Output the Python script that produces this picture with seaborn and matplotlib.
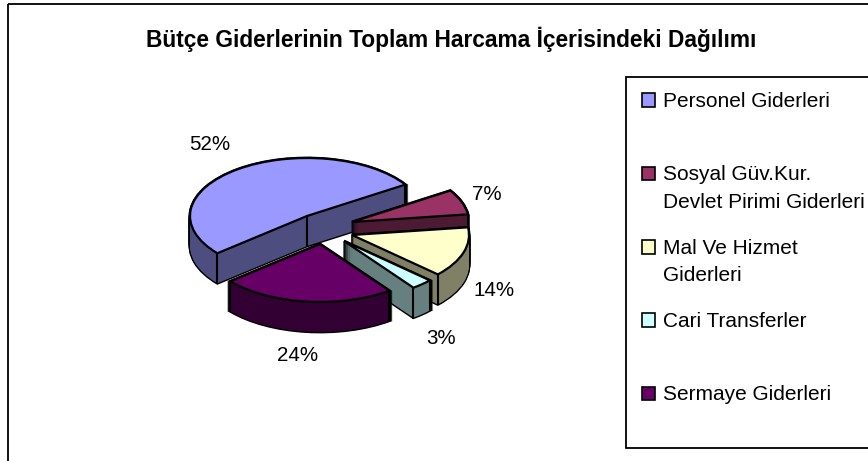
import numpy as np
import matplotlib
matplotlib.use('Agg')
import matplotlib.pyplot as plt
from matplotlib.patches import Patch, Rectangle
import seaborn as sns

baslik = 'Bütçe Giderlerinin Toplam Harcama İçerisindeki Dağılımı'
kategoriler = ['Personel Giderleri', 'Sosyal Güv.Kur.\nDevlet Pirimi Giderleri',
               'Mal Ve Hizmet\nGiderleri', 'Cari Transferler', 'Sermaye Giderleri']
degerler = [52, 7, 14, 3, 24]

sns.set_theme(style='white')
plt.rcParams['font.family'] = ['Liberation Sans', 'DejaVu Sans']

renkler = sns.color_palette(['#9999FF', '#993366', '#FFFFCC', '#CCFFFF', '#660066'])
koyu = sns.color_palette(['#4D4D80', '#4D1A33', '#808066', '#668080', '#330033'])

W, H = 868, 461
RX, RY = 117, 58          # elips yaricaplari (piksel)
CX, CY = 307, 216         # ana dilimin merkezi
DERINLIK = 30
BASLA = 220
# dilimlerin kaydirmasi (piksel): x saga, y asagi
kayma = [(0, 0), (45, 6), (45, 19), (37, 25), (13, 28)]
# hangi dik kenarlar gorunur: basla, merkez, bitis
koseler = [(1, 1, 1), (0, 0, 1), (0, 0, 1), (1, 0, 1), (1, 0, 1)]
yuzde_yer = [(210, 144), (487, 194), (494, 290), (441, 338), (298, 355)]

fig = plt.figure(figsize=(W / 100, H / 100), dpi=100)
ax = fig.add_axes([0, 0, 1, 1])


def katman(dy, renk, **wp):
    dilimler, _ = ax.pie(degerler, colors=renk, startangle=BASLA, counterclock=False,
                         wedgeprops=wp)
    for i, w in enumerate(dilimler):
        w.set_center((kayma[i][0] / RX, -(kayma[i][1] + dy) / RY))
        w.set_zorder(10 * (i + 1))
    return dilimler


# once siyah kontur, sonra koyu yan yuz, en ustte acik yuz
for dy in range(DERINLIK, -1, -1):
    katman(dy, koyu, edgecolor='black', linewidth=2)
for dy in range(DERINLIK, -1, -1):
    katman(dy, koyu, edgecolor='none', linewidth=0)
katman(0, renkler, edgecolor='black', linewidth=1.6)

# dik kenarlar
acilar = BASLA - np.cumsum([0] + degerler) * 3.6
for i, (a, m, b) in enumerate(koseler):
    x0, y0 = kayma[i][0] / RX, -kayma[i][1] / RY
    d = DERINLIK / RY
    xs = []
    if a:
        xs.append((x0 + np.cos(np.radians(acilar[i])), y0 + np.sin(np.radians(acilar[i]))))
    if m:
        xs.append((x0, y0))
    if b:
        xs.append((x0 + np.cos(np.radians(acilar[i + 1])), y0 + np.sin(np.radians(acilar[i + 1]))))
    for x, y in xs:
        ax.plot([x, x], [y, y - d], color='black', lw=1.5, zorder=10 * (i + 1) + 1)

ax.set_aspect('auto')
ax.set_xlim(-CX / RX, (W - CX) / RX)
ax.set_ylim(-(H - CY) / RY, CY / RY)

# cerceve, baslik, yuzdeler ve lejant piksel koordinatli ustteki eksende
ust = fig.add_axes([0, 0, 1, 1], facecolor='none')
ust.set_xlim(0, W)
ust.set_ylim(H, 0)
ust.axis('off')
ust.add_patch(Rectangle((8, 4), W + 20, H + 20, fill=False, edgecolor='black', lw=1.3))
ust.add_patch(Rectangle((626, 77), W, 371, facecolor='white', edgecolor='black', lw=1.3))
ust.text(451, 39, baslik, ha='center', va='center', fontsize=16.4, fontweight='bold', color='black')
for v, (x, y) in zip(degerler, yuzde_yer):
    ust.text(x, y, f'{v}%', ha='center', va='center', fontsize=14.8, color='black')

tutamac = [Patch(facecolor=r, edgecolor='black', lw=1.2) for r in renkler]
etiket = [k if '\n' in k else k + '\n ' for k in kategoriler]
leg = ust.legend(tutamac, etiket, loc='upper left', bbox_to_anchor=(642 / W, 1 - 92 / H),
                 bbox_transform=fig.transFigure, frameon=False, fontsize=15, borderaxespad=0,
                 borderpad=0, handlelength=0.63, handleheight=0.63, handletextpad=0.4,
                 labelspacing=1.3, labelcolor='black')
for t in leg.get_texts():
    t.set_linespacing(1.55)
for p in leg.get_patches():
    p.set_y(p.get_y() + 11)

fig.savefig('out.png', dpi=100)
